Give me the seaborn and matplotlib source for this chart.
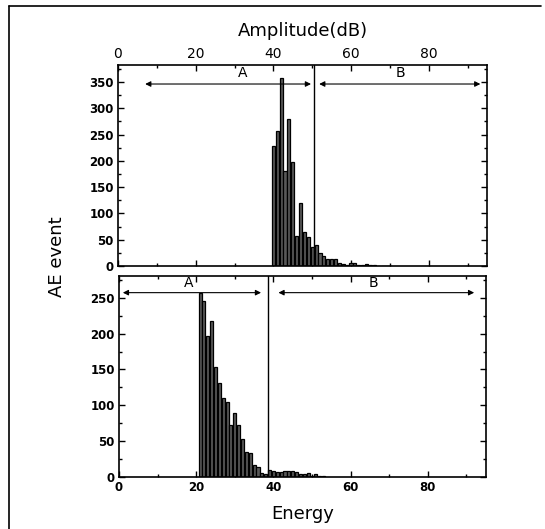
import numpy as np
import pandas as pd
import matplotlib.pyplot as plt
import seaborn as sns
from matplotlib.ticker import MultipleLocator
from matplotlib.lines import Line2D

# amplitude histogram (top panel)
amp_db = [40, 41, 42, 43, 44, 45, 46, 47, 48, 49, 50, 51, 52, 53, 54, 55,
          56, 57, 58, 59, 60, 61, 62, 63, 64, 65, 66, 67, 68, 69, 70]
amp_count = [228, 257, 357, 181, 280, 197, 57, 120, 64, 56, 37, 40, 25, 20, 13, 14,
             14, 5, 4, 3, 5, 5, 3, 2, 4, 3, 2, 1, 1, 1, 1]

# energy histogram (bottom panel)
energy = [21, 22, 23, 24, 25, 26, 27, 28, 29, 30, 31, 32, 33, 34, 35, 36, 37,
          38, 39, 40, 41, 42, 43, 44, 45, 46, 47, 48, 49, 50, 51, 52, 53]
energy_count = [257, 245, 196, 218, 154, 131, 110, 104, 73, 90, 73, 53, 35, 33, 17, 14, 6,
                5, 10, 8, 7, 7, 8, 8, 8, 7, 5, 4, 6, 2, 5, 2, 1]

# A/B split
amp_split = 50.5
energy_split = 38.7

sns.set_style("ticks", {"xtick.direction": "in", "ytick.direction": "in",
                        "axes.edgecolor": "black", "text.color": "black",
                        "axes.labelcolor": "black", "xtick.color": "black",
                        "ytick.color": "black"})
plt.rcParams['font.family'] = ['DejaVu Sans']

fig = plt.figure(figsize=(5.45, 5.29), dpi=100)
ax1 = fig.add_axes([0.2165, 0.497, 0.677, 0.380])
ax2 = fig.add_axes([0.2183, 0.098, 0.673, 0.380])

df1 = pd.DataFrame({"amp": amp_db, "n": amp_count})
df2 = pd.DataFrame({"energy": energy, "n": energy_count})

sns.histplot(data=df1, x="amp", weights="n", discrete=True, shrink=0.8,
             color="0.35", edgecolor="black", linewidth=0.9, alpha=1, ax=ax1)
sns.histplot(data=df2, x="energy", weights="n", discrete=True, shrink=0.8,
             color="0.35", edgecolor="black", linewidth=0.9, alpha=1, ax=ax2)

for ax in (ax1, ax2):
    ax.set_xlim(0, 95)
    ax.xaxis.set_major_locator(MultipleLocator(20))
    ax.xaxis.set_minor_locator(MultipleLocator(10))
    ax.yaxis.set_major_locator(MultipleLocator(50))
    ax.yaxis.set_minor_locator(MultipleLocator(25))
    ax.tick_params(which="both", direction="in", top=True, bottom=True,
                   left=True, right=True, width=1, pad=3, colors="black")
    ax.tick_params(which="major", length=4)
    ax.tick_params(which="minor", length=2)
    for s in ax.spines.values():
        s.set_linewidth(1.2)
    for lab in ax.get_xticklabels() + ax.get_yticklabels():
        lab.set_fontweight("bold")
        lab.set_fontsize(8.5)
    ax.set_ylabel("")

ax1.set_ylim(0, 382)
ax2.set_ylim(0, 280)

ax1.tick_params(labeltop=True, labelbottom=False)
ax1.xaxis.set_label_position("top")
ax1.set_xlabel("Amplitude(dB)", fontsize=13, labelpad=8)
ax2.set_xlabel("Energy", fontsize=13, labelpad=8)

fig.text(0.105, 0.515, "AE event", rotation=90, fontsize=13,
         ha="center", va="center")

# split lines and A/B ranges
ax1.axvline(amp_split, color="black", lw=1)
ax2.axvline(energy_split, color="black", lw=1)

arrow = dict(arrowstyle="<|-|>", color="black", lw=0.8, mutation_scale=8,
             shrinkA=0, shrinkB=0)
ax1.annotate("", xy=(7, 346), xytext=(49.7, 346), arrowprops=arrow)
ax1.annotate("", xy=(51.8, 346), xytext=(93.3, 346), arrowprops=arrow)
ax1.text(32, 366, "A", fontsize=10, ha="center", va="center")
ax1.text(72.8, 366, "B", fontsize=10, ha="center", va="center")

ax2.annotate("", xy=(1, 257), xytext=(36.8, 257), arrowprops=arrow)
ax2.annotate("", xy=(41.3, 257), xytext=(92, 257), arrowprops=arrow)
ax2.text(18, 270, "A", fontsize=10, ha="center", va="center")
ax2.text(66, 270, "B", fontsize=10, ha="center", va="center")

# outer frame (left and top edges of the scan)
fig.add_artist(Line2D([9 / 545, 9 / 545], [0, 1 - 6 / 529],
                      transform=fig.transFigure, color="black", lw=1.2))
fig.add_artist(Line2D([9 / 545, 541 / 545], [1 - 6 / 529, 1 - 6 / 529],
                      transform=fig.transFigure, color="black", lw=1.2))

fig.savefig("out.png", dpi=100)
